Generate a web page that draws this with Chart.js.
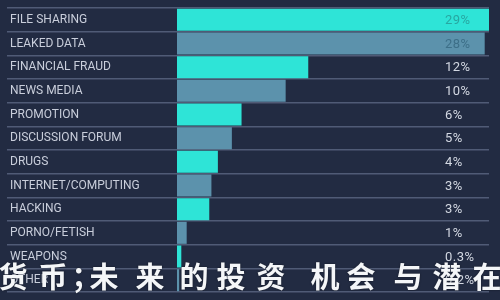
<!DOCTYPE html>
<html><head><meta charset="utf-8">
<script src="https://cdn.jsdelivr.net/npm/chart.js@4/dist/chart.umd.min.js"></script>
<style>html,body{margin:0;padding:0;background:#222b42;}#wrap{width:500px;height:300px;position:relative}</style>
</head><body><div id="wrap"><canvas id="c"></canvas></div>
<script>
const categories = ["FILE SHARING","LEAKED DATA","FINANCIAL FRAUD","NEWS MEDIA","PROMOTION","DISCUSSION FORUM","DRUGS","INTERNET/COMPUTING","HACKING","PORNO/FETISH","WEAPONS","OTHER"];
const shares = [29, 28.6, 12.2, 10.1, 6.0, 5.1, 3.8, 3.2, 3.0, 0.9, 0.4, 0.2];
const valueLabels = ["29%","28%","12%","10%","6%","5%","4%","3%","3%","1%","0.3%","0.2%"];
const watermark = "货币；未来的投资机会与潜在";

const CYAN = '#2ee4d7', STEEL = '#5c92ac', BG = '#222b42', LINE = '#505b76';

const overlay = {
  id: 'overlay',
  afterDatasetsDraw(chart) {
    const ctx = chart.ctx, meta = chart.getDatasetMeta(0);
    const lx = chart.chartArea.right - 44;
    ctx.save();
    ctx.font = '13px Roboto';
    ctx.letterSpacing = '0.5px';
    ctx.textBaseline = 'middle';
    ctx.textAlign = 'left';
    meta.data.forEach((bar, i) => {
      const covered = bar.x > lx + 20;
      ctx.fillStyle = covered ? (i % 2 ? '#3d6f88' : '#27a7a1') : '#d3d8e2';
      ctx.fillText(valueLabels[i], lx, bar.y + 1);
    });
    ctx.restore();
  },
  afterDraw(chart) {
    const ctx = chart.ctx;
    const centers = [13, 53, 86, 104, 150, 194, 231, 271, 325, 361, 408, 447, 487];
    ctx.save();
    ctx.font = '700 29px "Noto Sans CJK SC"';
    ctx.textAlign = 'center';
    ctx.textBaseline = 'middle';
    ctx.shadowColor = 'rgba(0,0,0,0.5)';
    ctx.shadowBlur = 2;
    ctx.fillStyle = '#f4f6f8';
    Array.from(watermark).forEach((ch, i) => ctx.fillText(ch, centers[i], 277));
    ctx.restore();
  }
};

new Chart(document.getElementById('c'), {
  type: 'bar',
  data: {
    labels: categories,
    datasets: [{
      data: shares,
      backgroundColor: shares.map((_, i) => i % 2 ? STEEL : CYAN),
      borderWidth: 0,
      barPercentage: 0.93,
      categoryPercentage: 1
    }]
  },
  options: {
    indexAxis: 'y',
    responsive: true,
    maintainAspectRatio: false,
    animation: false,
    layout: { padding: { left: 10, right: 11, top: 8, bottom: 8 } },
    plugins: { legend: { display: false }, tooltip: { enabled: false } },
    scales: {
      x: { display: false, min: 0, max: 29 },
      y: {
        afterFit(s) { s.width = 167; },
        border: { display: false },
        grid: { offset: true, color: LINE, lineWidth: 1.5, tickLength: 170, tickColor: LINE },
        ticks: { crossAlign: 'far', color: '#c9cedb', padding: 0, font: { family: 'Roboto', size: 12 } }
      }
    }
  },
  plugins: [overlay]
});
</script></body></html>
